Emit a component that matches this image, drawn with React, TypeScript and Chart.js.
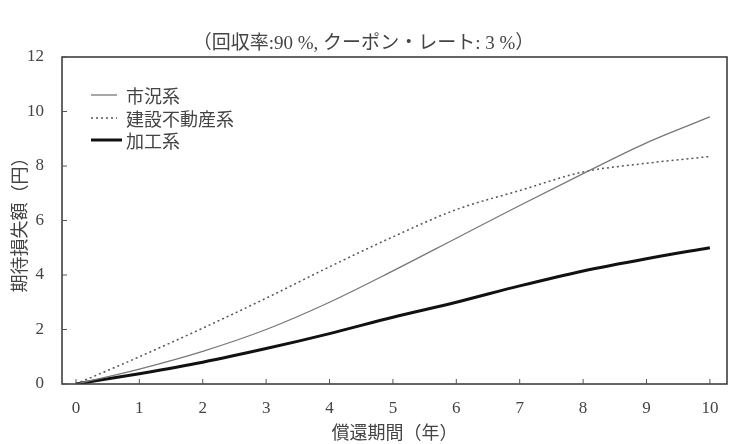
import React, { useEffect, useRef } from "react";
import { Chart, registerables } from "chart.js";

Chart.register(...registerables);

const TITLE = "（回収率:90 %, クーポン・レート: 3 %）";
const X_TITLE = "償還期間（年）";
const Y_TITLE = "期待損失額（円）";

const YEARS = [0, 1, 2, 3, 4, 5, 6, 7, 8, 9, 10];
const X_TICKS = [0, 1, 2, 3, 4, 5, 6, 7, 8, 9, 10];
const Y_TICKS = [0, 2, 4, 6, 8, 10, 12];

const SERIES_NAMES = ["市況系", "建設不動産系", "加工系"];
const MARKET = [0, 0.55, 1.2, 2.0, 3.0, 4.15, 5.35, 6.55, 7.72, 8.85, 9.8];
const REALESTATE = [0, 1.0, 2.05, 3.15, 4.3, 5.4, 6.4, 7.1, 7.78, 8.1, 8.35];
const PROCESSING = [0, 0.38, 0.8, 1.3, 1.85, 2.45, 3.0, 3.6, 4.15, 4.6, 5.0];

const SERIF = "'Liberation Serif', 'Noto Sans CJK JP', serif";
const CJK = "'Noto Sans CJK JP', 'Liberation Serif', sans-serif";
const TEXT = "#444";

const frameAndLegend = {
  id: "frameAndLegend",
  afterDatasetsDraw(chart: any) {
    const { ctx, chartArea: a, scales } = chart;
    ctx.save();
    ctx.strokeStyle = "#333";
    ctx.lineWidth = 1.5;
    ctx.setLineDash([]);
    ctx.strokeRect(a.left, a.top, a.right - a.left, a.bottom - a.top);
    ctx.lineWidth = 1;
    ctx.strokeStyle = "#555";
    X_TICKS.forEach((v) => {
      const x = scales.x.getPixelForValue(v);
      ctx.beginPath();
      ctx.moveTo(x, a.bottom);
      ctx.lineTo(x, a.bottom - 5);
      ctx.stroke();
    });
    Y_TICKS.forEach((v) => {
      const y = scales.y.getPixelForValue(v);
      ctx.beginPath();
      ctx.moveTo(a.left, y);
      ctx.lineTo(a.left + 5, y);
      ctx.stroke();
    });
    const rows = [38, 61, 83];
    chart.data.datasets.forEach((ds: any, i: number) => {
      const y = a.top + rows[i];
      ctx.strokeStyle = ds.borderColor;
      ctx.lineWidth = ds.borderWidth;
      ctx.setLineDash(ds.borderDash || []);
      ctx.beginPath();
      ctx.moveTo(a.left + 29, y);
      ctx.lineTo(a.left + (i === 2 ? 60 : 55), y);
      ctx.stroke();
      ctx.setLineDash([]);
      ctx.fillStyle = TEXT;
      ctx.font = `18px ${CJK}`;
      ctx.textAlign = "left";
      ctx.textBaseline = "middle";
      ctx.fillText(ds.label, a.left + 64, y + 1);
    });
    ctx.restore();
  },
};

export default function App() {
  const ref = useRef<HTMLCanvasElement | null>(null);

  useEffect(() => {
    const mk = (ys: number[]) => YEARS.map((x, i) => ({ x, y: ys[i] }));
    const chart = new Chart(ref.current!, {
      type: "line",
      data: {
        datasets: [
          {
            label: SERIES_NAMES[0],
            data: mk(MARKET),
            borderColor: "#777",
            borderWidth: 1.3,
            pointRadius: 0,
            cubicInterpolationMode: "monotone",
          },
          {
            label: SERIES_NAMES[1],
            data: mk(REALESTATE),
            borderColor: "#555",
            borderWidth: 1.5,
            borderDash: [2, 3],
            pointRadius: 0,
            cubicInterpolationMode: "monotone",
          },
          {
            label: SERIES_NAMES[2],
            data: mk(PROCESSING),
            borderColor: "#111",
            borderWidth: 3,
            pointRadius: 0,
            cubicInterpolationMode: "monotone",
          },
        ],
      },
      options: {
        animation: false,
        responsive: false,
        layout: { padding: { left: 0, right: 9, top: 0, bottom: 0 } },
        plugins: {
          legend: { display: false },
          tooltip: { enabled: false },
          title: {
            display: true,
            text: TITLE,
            color: TEXT,
            font: { family: SERIF, size: 19, weight: "normal", lineHeight: 1.2 },
            padding: { top: 33, bottom: 1.2 },
          },
        },
        scales: {
          x: {
            type: "linear",
            min: -0.22,
            max: 10.27,
            grid: { display: false, drawTicks: false },
            border: { display: false },
            afterBuildTicks: (s: any) => {
              s.ticks = X_TICKS.map((value) => ({ value }));
            },
            afterFit: (s: any) => {
              s.height = 60;
            },
            ticks: {
              color: TEXT,
              padding: 14,
              maxRotation: 0,
              autoSkip: false,
              font: { family: SERIF, size: 17 },
            },
            title: {
              display: true,
              text: X_TITLE,
              color: TEXT,
              font: { family: SERIF, size: 18, lineHeight: 1.2 },
              padding: { top: 0, bottom: -1 },
            },
          },
          y: {
            type: "linear",
            min: 0,
            max: 12,
            grid: { display: false, drawTicks: false },
            border: { display: false },
            afterBuildTicks: (s: any) => {
              s.ticks = Y_TICKS.map((value) => ({ value }));
            },
            afterFit: (s: any) => {
              s.width = 62;
            },
            ticks: {
              color: TEXT,
              padding: 18,
              autoSkip: false,
              font: { family: SERIF, size: 17 },
            },
            title: {
              display: true,
              text: Y_TITLE,
              color: TEXT,
              font: { family: SERIF, size: 18, lineHeight: 1.2 },
              padding: { top: 10, bottom: 0 },
            },
          },
        },
      },
      plugins: [frameAndLegend],
    } as any);
    return () => chart.destroy();
  }, []);

  return (
    <div style={{ position: "fixed", left: 0, top: 0, width: 736, height: 444, background: "#fff" }}>
      <canvas ref={ref} width={736} height={444} style={{ display: "block" }} />
    </div>
  );
}
